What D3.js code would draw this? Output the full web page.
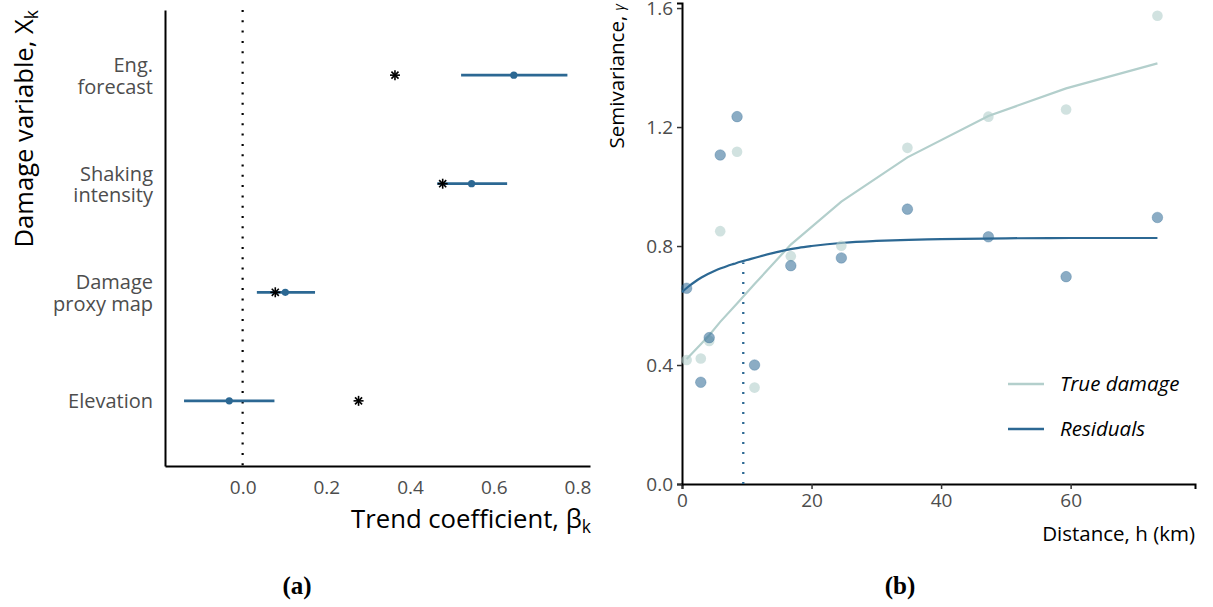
<!DOCTYPE html>
<html>
<head>
<meta charset="utf-8">
<script src="https://cdn.jsdelivr.net/npm/d3@7"></script>
<style>
  body { margin: 0; background: #fff; }
  text { font-family: "Open Sans", sans-serif; }
  text.letter { font-family: "Liberation Serif", "Times New Roman", serif; }
</style>
</head>
<body>
<div id="graph"></div>
<script>
// panel (a) data
const categories = ['Eng.\nforecast', 'Shaking\nintensity', 'Damage\nproxy map', 'Elevation'];
const estimate = [0.648, 0.547, 0.102, -0.032];
const lower = [0.522, 0.465, 0.034, -0.140];
const upper = [0.776, 0.632, 0.173, 0.076];
const starValue = [0.364, 0.478, 0.078, 0.277];
const coefTicks = [0, 0.2, 0.4, 0.6, 0.8];

// panel (b) data
const distance = [0.72, 2.9, 4.2, 5.9, 8.5, 11.2, 16.8, 24.6, 34.8, 47.3, 59.3, 73.4];
const trueDamage = [0.417, 0.422, 0.481, 0.850, 1.117, 0.324, 0.766, 0.801, 1.130, 1.235, 1.259, 1.574];
const residuals = [0.658, 0.342, 0.492, 1.106, 1.235, 0.400, 0.734, 0.760, 0.924, 0.831, 0.697, 0.896];
const trueFit = [0.420, 0.470, 0.500, 0.545, 0.607, 0.672, 0.805, 0.949, 1.098, 1.237, 1.330, 1.414];
const residFitH = [0, 1, 2, 3, 4, 5, 6, 7, 8, 9, 10, 12, 14, 16, 18, 20, 25, 30, 35, 40, 50, 60, 73.4];
const residFit = [0.645, 0.664, 0.680, 0.694, 0.706, 0.716, 0.725, 0.733, 0.740, 0.747, 0.753, 0.765,
  0.776, 0.786, 0.794, 0.800, 0.811, 0.817, 0.821, 0.823, 0.826, 0.827, 0.827];
const rangeKm = 9.46;
const distTicks = [0, 20, 40, 60];
const semiTicks = [0, 0.4, 0.8, 1.2, 1.6];
const legendLabels = ['True damage', 'Residuals'];

const blue = '#2c6893';
const light = '#b3cfcc';
const grey = '#4d4d4d';

const svg = d3.select('#graph').append('svg')
  .attr('width', 1213)
  .attr('height', 607);

// ---------- panel (a) ----------
const xa = d3.scaleLinear().domain([-0.1855, 0.83]).range([165, 590]);
const ya = d3.scalePoint().domain(categories).range([10, 466]).padding(0.6);

const pa = svg.append('g');

// x axis
const xaxisA = pa.append('g')
  .attr('transform', 'translate(0,466)')
  .call(d3.axisBottom(xa).tickValues(coefTicks).tickFormat(d3.format('.1f')).tickSize(0).tickPadding(15));
xaxisA.select('.domain').attr('stroke', '#000').attr('stroke-width', 2);
xaxisA.selectAll('text').attr('font-size', 19).attr('fill', grey).attr('font-family', 'Open Sans');

// y axis
const yaxisA = pa.append('g')
  .attr('transform', 'translate(165,0)')
  .call(d3.axisLeft(ya).tickSize(0).tickFormat(''));
yaxisA.select('.domain').attr('stroke', '#000').attr('stroke-width', 2);

// category labels, one text per line
categories.forEach((c) => {
  const lines = c.split('\n');
  lines.forEach((l, i) => {
    const off = lines.length === 1 ? 7.5 : (i === 0 ? -3 : 18.5);
    pa.append('text')
      .attr('x', 153).attr('y', ya(c) + off)
      .attr('text-anchor', 'end')
      .attr('font-size', 20)
      .attr('fill', grey)
      .text(l);
  });
});

// zero reference line
pa.append('line')
  .attr('x1', xa(0)).attr('x2', xa(0))
  .attr('y1', 10).attr('y2', 466)
  .attr('stroke', '#000').attr('stroke-width', 2.2)
  .attr('stroke-dasharray', '2,8.3');

// error bars
pa.selectAll('.bar').data(categories).enter().append('line')
  .attr('x1', (d, i) => xa(lower[i]))
  .attr('x2', (d, i) => xa(upper[i]))
  .attr('y1', d => ya(d)).attr('y2', d => ya(d))
  .attr('stroke', blue).attr('stroke-width', 2.8);

pa.selectAll('.est').data(categories).enter().append('circle')
  .attr('cx', (d, i) => xa(estimate[i]))
  .attr('cy', d => ya(d))
  .attr('r', 3.6)
  .attr('fill', blue);

// stars
const starArms = [0, 45, 90, 135];
categories.forEach((c, i) => {
  const g = pa.append('g').attr('transform', 'translate(' + xa(starValue[i]) + ',' + ya(c) + ')');
  starArms.forEach((a) => {
    const r = 5;
    const rad = a * Math.PI / 180;
    g.append('line')
      .attr('x1', -r * Math.cos(rad)).attr('y1', -r * Math.sin(rad))
      .attr('x2', r * Math.cos(rad)).attr('y2', r * Math.sin(rad))
      .attr('stroke', '#000').attr('stroke-width', 1.6);
  });
});

// titles
pa.append('text')
  .attr('transform', 'translate(33,10) rotate(-90)')
  .attr('text-anchor', 'end')
  .attr('font-size', 25.6)
  .attr('fill', '#000')
  .text('Damage variable, X')
  .append('tspan').attr('font-size', 17.5).attr('dy', 5).text('k');

pa.append('text')
  .attr('x', 591).attr('y', 528)
  .attr('text-anchor', 'end')
  .attr('font-size', 25.7)
  .attr('fill', '#000')
  .text('Trend coefficient, β')
  .append('tspan').attr('font-size', 17.5).attr('dy', 5).text('k');

// ---------- panel (b) ----------
const xb = d3.scaleLinear().domain([0, 79.2]).range([682, 1195]);
const yb = d3.scaleLinear().domain([0, 1.617]).range([484, 3]);

const pb = svg.append('g');

const xaxisB = pb.append('g')
  .attr('transform', 'translate(0,484)')
  .call(d3.axisBottom(xb).tickValues(distTicks).tickSize(5).tickPadding(5));
const yaxisB = pb.append('g')
  .attr('transform', 'translate(682,0)')
  .call(d3.axisLeft(yb).tickValues(semiTicks).tickFormat(d3.format('.1f')).tickSize(5).tickPadding(4));
[xaxisB, yaxisB].forEach((ax) => {
  ax.select('.domain').attr('stroke', '#000').attr('stroke-width', 2);
  ax.selectAll('.tick line').attr('stroke', '#333').attr('stroke-width', 1.5);
  ax.selectAll('text').attr('font-size', 19).attr('fill', grey).attr('font-family', 'Open Sans');
});

// range marker
pb.append('line')
  .attr('x1', xb(rangeKm)).attr('x2', xb(rangeKm))
  .attr('y1', yb(0)).attr('y2', yb(0.745))
  .attr('stroke', blue).attr('stroke-width', 2.3)
  .attr('stroke-dasharray', '2,8');

const lineB = d3.line()
  .x(d => xb(d[0]))
  .y(d => yb(d[1]));

pb.append('path')
  .attr('d', lineB(distance.map((d, i) => [d, trueFit[i]])))
  .attr('fill', 'none').attr('stroke', light).attr('stroke-width', 2.2);

pb.append('path')
  .attr('d', lineB.curve(d3.curveMonotoneX)(residFitH.map((d, i) => [d, residFit[i]])))
  .attr('fill', 'none').attr('stroke', blue).attr('stroke-width', 2.2);

pb.selectAll('.pt-true').data(distance).enter().append('circle')
  .attr('cx', d => xb(d))
  .attr('cy', (d, i) => yb(trueDamage[i]))
  .attr('r', 5.3)
  .attr('fill', light).attr('fill-opacity', 0.6);

pb.selectAll('.pt-res').data(distance).enter().append('circle')
  .attr('cx', d => xb(d))
  .attr('cy', (d, i) => yb(residuals[i]))
  .attr('r', 5.3)
  .attr('fill', blue).attr('fill-opacity', 0.55)
  .attr('stroke', blue).attr('stroke-opacity', 0.3).attr('stroke-width', 1);

// legend
const legendColors = [light, blue];
legendLabels.forEach((l, i) => {
  const y = 384 + i * 45;
  pb.append('line')
    .attr('x1', 1008).attr('x2', 1044)
    .attr('y1', y).attr('y2', y)
    .attr('stroke', legendColors[i]).attr('stroke-width', 2.4);
  pb.append('text')
    .attr('x', 1060).attr('y', y + 7)
    .attr('font-size', 20.5)
    .attr('font-style', 'italic')
    .attr('fill', '#000')
    .text(l);
});

// titles
pb.append('text')
  .attr('transform', 'translate(624,4) rotate(-90)')
  .attr('text-anchor', 'end')
  .attr('font-size', 20.5)
  .attr('fill', '#000')
  .text('Semivariance, ')
  .append('tspan').attr('font-size', 14).attr('font-style', 'italic').text('γ');

pb.append('text')
  .attr('x', 1195).attr('y', 541)
  .attr('text-anchor', 'end')
  .attr('font-size', 20.5)
  .attr('fill', '#000')
  .text('Distance, h (km)');

// panel letters
[['(a)', 297], ['(b)', 900]].forEach(([t, x]) => {
  svg.append('text')
    .attr('class', 'letter')
    .attr('x', x).attr('y', 594)
    .attr('text-anchor', 'middle')
    .attr('font-weight', 'bold')
    .attr('font-size', 25)
    .text(t);
});
</script>
</body>
</html>
